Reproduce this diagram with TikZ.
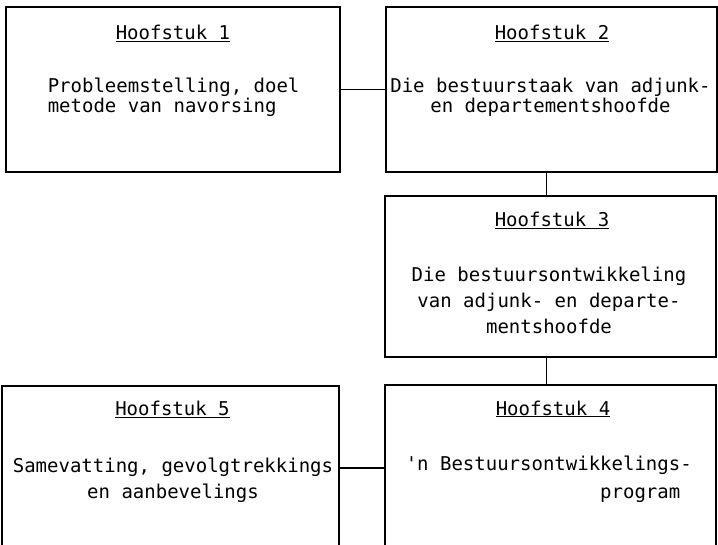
\documentclass[tikz,border=0pt]{standalone}
\usepackage{fontspec}
\setmonofont{DejaVu Sans Mono}
\usepackage{tikz}
\usetikzlibrary{positioning,calc}

\begin{document}
\begin{tikzpicture}[x=1pt, y=-1pt, line width=1.5pt,
	box/.style={draw, inner sep=0pt},
	head/.style={font=\ttfamily\fontsize{19}{20}\selectfont, inner sep=0pt, anchor=base},
	body/.style={font=\ttfamily\fontsize{19}{#1}\selectfont, inner sep=0pt, anchor=base},
	body/.default=26]
	\useasboundingbox (0,0) rectangle (718,545);
	\clip (0,0) rectangle (718,545);

	% the bottom two boxes run off the page
	\node (B1) at (173,89.5) [box, minimum width=334pt, minimum height=165pt] {};
	\node (B2) at (551.5,89.5) [box, minimum width=331pt, minimum height=165pt] {};
	\node (B3) at (550.5,276.5) [box, minimum width=331pt, minimum height=161pt] {};
	\node (B4) at (550.5,475) [box, minimum width=331pt, minimum height=180pt] {};
	\node (B5) at (170.5,476) [box, minimum width=337pt, minimum height=180pt] {};

	\foreach \n/\x/\y in {1/173/40, 2/552/40, 3/552/227, 4/553/415, 5/172.5/416} {
		\node ({T\n}) at (\x,\y) [head] {\underline{Hoofstuk \n}};
	}

	% base = baseline of the last line
	\node (D1) at (47,113) [body=20, anchor=base west, align=left] {Probleemstelling, doel\\metode van navorsing};
	\node (D2) at (550.5,113) [body=20, align=center] {Die bestuurstaak van adjunk-\\en departementshoofde};
	\node (D3) at (549,334) [body, align=center] {Die bestuursontwikkeling\\van adjunk- en departe-\\mentshoofde};
	\node (D4) at (405,498) [body=28, anchor=base west, align=left] {'n Bestuursontwikkelings-\\\hphantom{'n Bestuursontwik}program};
	\node (D5) at (173,498) [body, align=center] {Samevatting, gevolgtrekkings\\en aanbevelings};

	\draw (B1) -- (B2);
	\draw ([xshift=-5pt]B2.south) -- ([xshift=-5pt]B2.south |- B3.north);
	\draw ([xshift=-4pt]B3.south) -- ([xshift=-4pt]B3.south |- B4.north);
	\draw ([yshift=8pt]B5.east) -- ([yshift=8pt]B5.east -| B4.west);
\end{tikzpicture}
\end{document}
